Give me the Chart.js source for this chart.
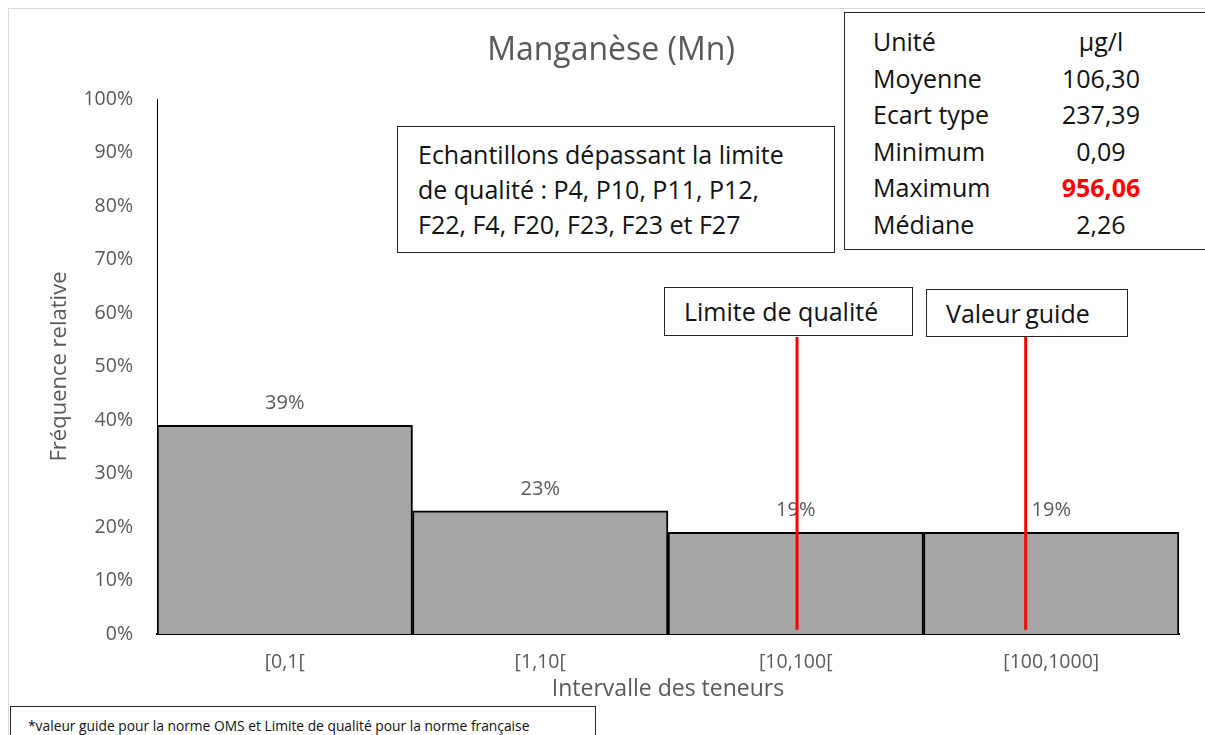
<!DOCTYPE html>
<html lang="fr">
<head>
<meta charset="utf-8">
<title>Manganèse (Mn)</title>
<script src="https://cdn.jsdelivr.net/npm/chart.js@4/dist/chart.umd.min.js"></script>
<style>
  html, body { margin: 0; padding: 0; background: #fff; }
  body { width: 1205px; height: 735px; overflow: hidden; position: relative; font-family: "Open Sans", sans-serif; }
  #wrap { position: absolute; left: 0; top: 0; width: 1205px; height: 735px; }
  .frame { position: absolute; left: 8px; top: 8px; width: 1300px; height: 800px; border: 1px solid #d9d9d9; }
  .box { position: absolute; background: #fff; border: 1px solid #262626; color: #111; box-sizing: border-box; }
  #stats { left: 844px; top: 12px; width: 400px; height: 238px; padding-top: 10px; font-size: 25px; }
  #stats .row { height: 36.5px; line-height: 36.5px; position: relative; }
  #stats .k { position: absolute; left: 28px; }
  #stats .v { position: absolute; left: 206px; width: 100px; text-align: center; }
  #stats .red { color: #ff0000; font-weight: bold; }
  #note { left: 397px; top: 126px; width: 438px; height: 127px; padding: 10px 0 0 20px; font-size: 25px; line-height: 35px; }
  .tag { font-size: 25px; line-height: 46px; padding-left: 19px; }
  #lim { left: 664px; top: 287px; width: 249px; height: 49px; }
  #vg { left: 926px; top: 289px; width: 202px; height: 48px; word-spacing: -2px; }
  #foot { left: 10px; top: 706px; width: 586px; height: 60px; font-size: 13.8px; padding: 9px 0 0 17px; }
</style>
</head>
<body>
<div class="frame"></div>
<div id="wrap"><canvas id="chart" width="1205" height="735"></canvas></div>

<div class="box" id="note">Echantillons dépassant la limite<br>de qualité : P4, P10, P11, P12,<br>F22, F4, F20, F23, F23 et F27</div>
<div class="box tag" id="lim">Limite de qualité</div>
<div class="box tag" id="vg">Valeur guide</div>
<div class="box" id="stats"></div>
<div class="box" id="foot">*valeur guide pour la norme OMS et Limite de qualité pour la norme française</div>

<script>
// histogram classes and relative frequencies (%)
const classes     = ['[0,1[', '[1,10[', '[10,100[', '[100,1000]'];
const frequencies = [39, 23, 19, 19];
const yTicks      = [0, 10, 20, 30, 40, 50, 60, 70, 80, 90, 100];

// threshold markers, x in class units on the overlay axis, y in %
const limiteQualite = [{ x: 2.505, y: 0.8 }, { x: 2.505, y: 55.5 }];
const valeurGuide   = [{ x: 3.40,  y: 0.8 }, { x: 3.40,  y: 55.5 }];

// summary statistics box
const statLabels = ['Unité', 'Moyenne', 'Ecart type', 'Minimum', 'Maximum', 'Médiane'];
const statValues = ['µg/l', '106,30', '237,39', '0,09', '956,06', '2,26'];

const GREY = '#595959';
const FONT = '"Open Sans", sans-serif';

document.getElementById('stats').innerHTML = statLabels.map((k, i) =>
  `<div class="row"><span class="k">${k}</span><span class="v${k === 'Maximum' ? ' red' : ''}">${statValues[i]}</span></div>`
).join('');

/* ── value labels above the bars (drawn before the red lines) ── */
const barLabels = {
  id: 'barLabels',
  afterDatasetDraw(chart, args) {
    if (args.index !== 0) return;
    const ctx = chart.ctx;
    ctx.save();
    ctx.font = `20px ${FONT}`;
    ctx.fillStyle = GREY;
    ctx.textAlign = 'center';
    ctx.textBaseline = 'middle';
    args.meta.data.forEach((bar, i) => {
      ctx.fillText(frequencies[i] + '%', bar.x, bar.y - 22);
    });
    ctx.restore();
  },
};

new Chart(document.getElementById('chart'), {
  data: {
    labels: classes,
    datasets: [
      {
        type: 'bar',
        data: frequencies,
        backgroundColor: '#a6a6a6',
        borderColor: '#000',
        borderWidth: 2,
        barPercentage: 1,
        categoryPercentage: 1,
        grouped: false,
        order: 2,
      },
      {
        type: 'line',
        xAxisID: 'xl',
        data: limiteQualite,
        borderColor: '#ff0000',
        borderWidth: 3,
        pointRadius: 0,
        order: 1,
      },
      {
        type: 'line',
        xAxisID: 'xl',
        data: valeurGuide,
        borderColor: '#ff0000',
        borderWidth: 3,
        pointRadius: 0,
        order: 1,
      },
    ],
  },
  options: {
    responsive: false,
    animation: false,
    layout: { padding: { left: 17, right: 0, top: 0, bottom: 0 } },
    plugins: {
      legend: { display: false },
      tooltip: { enabled: false },
      title: {
        display: true,
        text: 'Manganèse (Mn)',
        color: GREY,
        font: { family: FONT, size: 32, weight: 'normal' },
        padding: { top: 32, bottom: 28.6 },
      },
    },
    scales: {
      x: {
        type: 'category',
        grid: { display: false, drawTicks: false },
        border: { color: '#000', width: 2 },
        ticks: { color: GREY, font: { family: FONT, size: 19.5 }, padding: 17 },
        title: {
          display: true,
          text: 'Intervalle des teneurs',
          color: GREY,
          font: { family: FONT, size: 23 },
          padding: { bottom: 32 },
        },
        afterFit: s => { s.height = 101; },
      },
      xl: {
        type: 'linear',
        display: false,
        min: 0,
        max: 4,
      },
      y: {
        min: 0,
        max: 100,
        afterBuildTicks: s => { s.ticks = yTicks.map(v => ({ value: v })); },
        grid: { display: false, drawTicks: false },
        border: { color: '#000', width: 1 },
        ticks: {
          color: GREY,
          font: { family: FONT, size: 19.5 },
          padding: 24,
          callback: v => v + '%',
        },
        title: {
          display: true,
          text: 'Fréquence relative',
          color: GREY,
          font: { family: FONT, size: 22 },
          padding: { top: 29.8 },
        },
        afterFit: s => { s.width = 140; },
      },
      // empty right-hand margin so the title stays centred on the page
      yr: {
        position: 'right',
        display: true,
        grid: { display: false, drawTicks: false },
        border: { display: false },
        ticks: { display: false },
        afterFit: s => { s.width = 26; },
      },
    },
  },
  plugins: [barLabels],
});
</script>
</body>
</html>
